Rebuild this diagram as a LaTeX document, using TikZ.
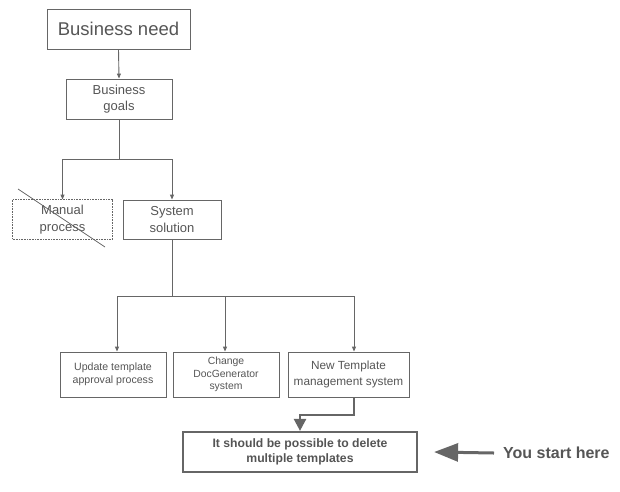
\documentclass[tikz,border=0pt]{standalone}
\usepackage{fontspec}
\setmainfont{Liberation Sans}
\usetikzlibrary{arrows.meta}
\definecolor{ln}{HTML}{666666}
\definecolor{tx}{HTML}{555555}
\tikzset{
  box/.style={draw=ln, line width=0.9pt, align=center, text=tx, inner sep=0pt},
  arr/.style={draw=ln, line width=0.9pt, -{Triangle[length=5pt,width=4pt]}},
  ln/.style={draw=ln, line width=0.9pt},
}
\begin{document}
\begin{tikzpicture}[x=1pt,y=-1pt]
\useasboundingbox (0,0) rectangle (620,491);
\node[box, minimum width=143pt, minimum height=40pt, font=\fontsize{18.5}{20}\selectfont] (bn) at (118.5,29) {Business need};
\node[box, minimum width=106pt, minimum height=40pt, font=\fontsize{13}{16.5}\selectfont] (bg) at (119,99) {Business\\goals};
\node[box, draw=none, minimum width=99pt, minimum height=39pt, font=\fontsize{13}{16.5}\selectfont] (mp) at (62.5,219.5) {Manual\\process};
\draw[ln, line width=0.6pt, densely dotted] (mp.north west) rectangle (mp.south east);
\node[box, minimum width=98pt, minimum height=39pt, font=\fontsize{13}{16.5}\selectfont] (ss) at (172,219.5) {System\\solution};
\node[box, minimum width=106pt, minimum height=45pt, font=\fontsize{10.6}{13}\selectfont] (up) at (113,374.5) {Update template\\approval process};
\node[box, minimum width=106pt, minimum height=45pt, font=\fontsize{10.4}{12.5}\selectfont] (cd) at (226,374.5) {Change\\DocGenerator\\system};
\node[box, minimum width=121pt, minimum height=45pt, font=\fontsize{11.8}{15.5}\selectfont] (nt) at (348.5,374.5) {New Template\\management system};
\node[box, line width=2.2pt, minimum width=234pt, minimum height=40pt, font=\bfseries\fontsize{12.2}{15.5}\selectfont] (fin) at (300,452) {It should be possible to delete\\multiple templates};
\node[font=\bfseries\fontsize{16}{18}\selectfont, text=tx, anchor=west, inner sep=0pt] (ysh) at (503,453) {You start here};
\coordinate (ye) at (494,453);
% connectors
\draw[arr] (bn.south) -- (bg.north);
\coordinate (j1) at (119,159);
\draw[ln] (bg.south) -- (j1);
\draw[arr] (j1) -| (mp.north);
\draw[arr] (j1) -| (ss.north);
\coordinate (j2) at (172,296);
\draw[ln] (ss.south) -- (j2);
\draw[arr] (j2) -| ([xshift=4pt]up.north);
\draw[arr] (j2) -| ([xshift=-1pt]cd.north);
\draw[arr] (j2) -| ([xshift=5.5pt]nt.north);
\draw[draw=ln, line width=2.4pt, -{Triangle[length=12pt,width=12pt]}] ([xshift=5.5pt]nt.south) |- (300,415) -- (fin.north);
\draw[draw=ln, line width=3pt, -{Triangle[length=24pt,width=18pt]}] (ye) -- ([xshift=16pt]fin.east);
% strike through
\draw[ln, line width=0.8pt] (18,189) -- (105,247);
\end{tikzpicture}
\end{document}
